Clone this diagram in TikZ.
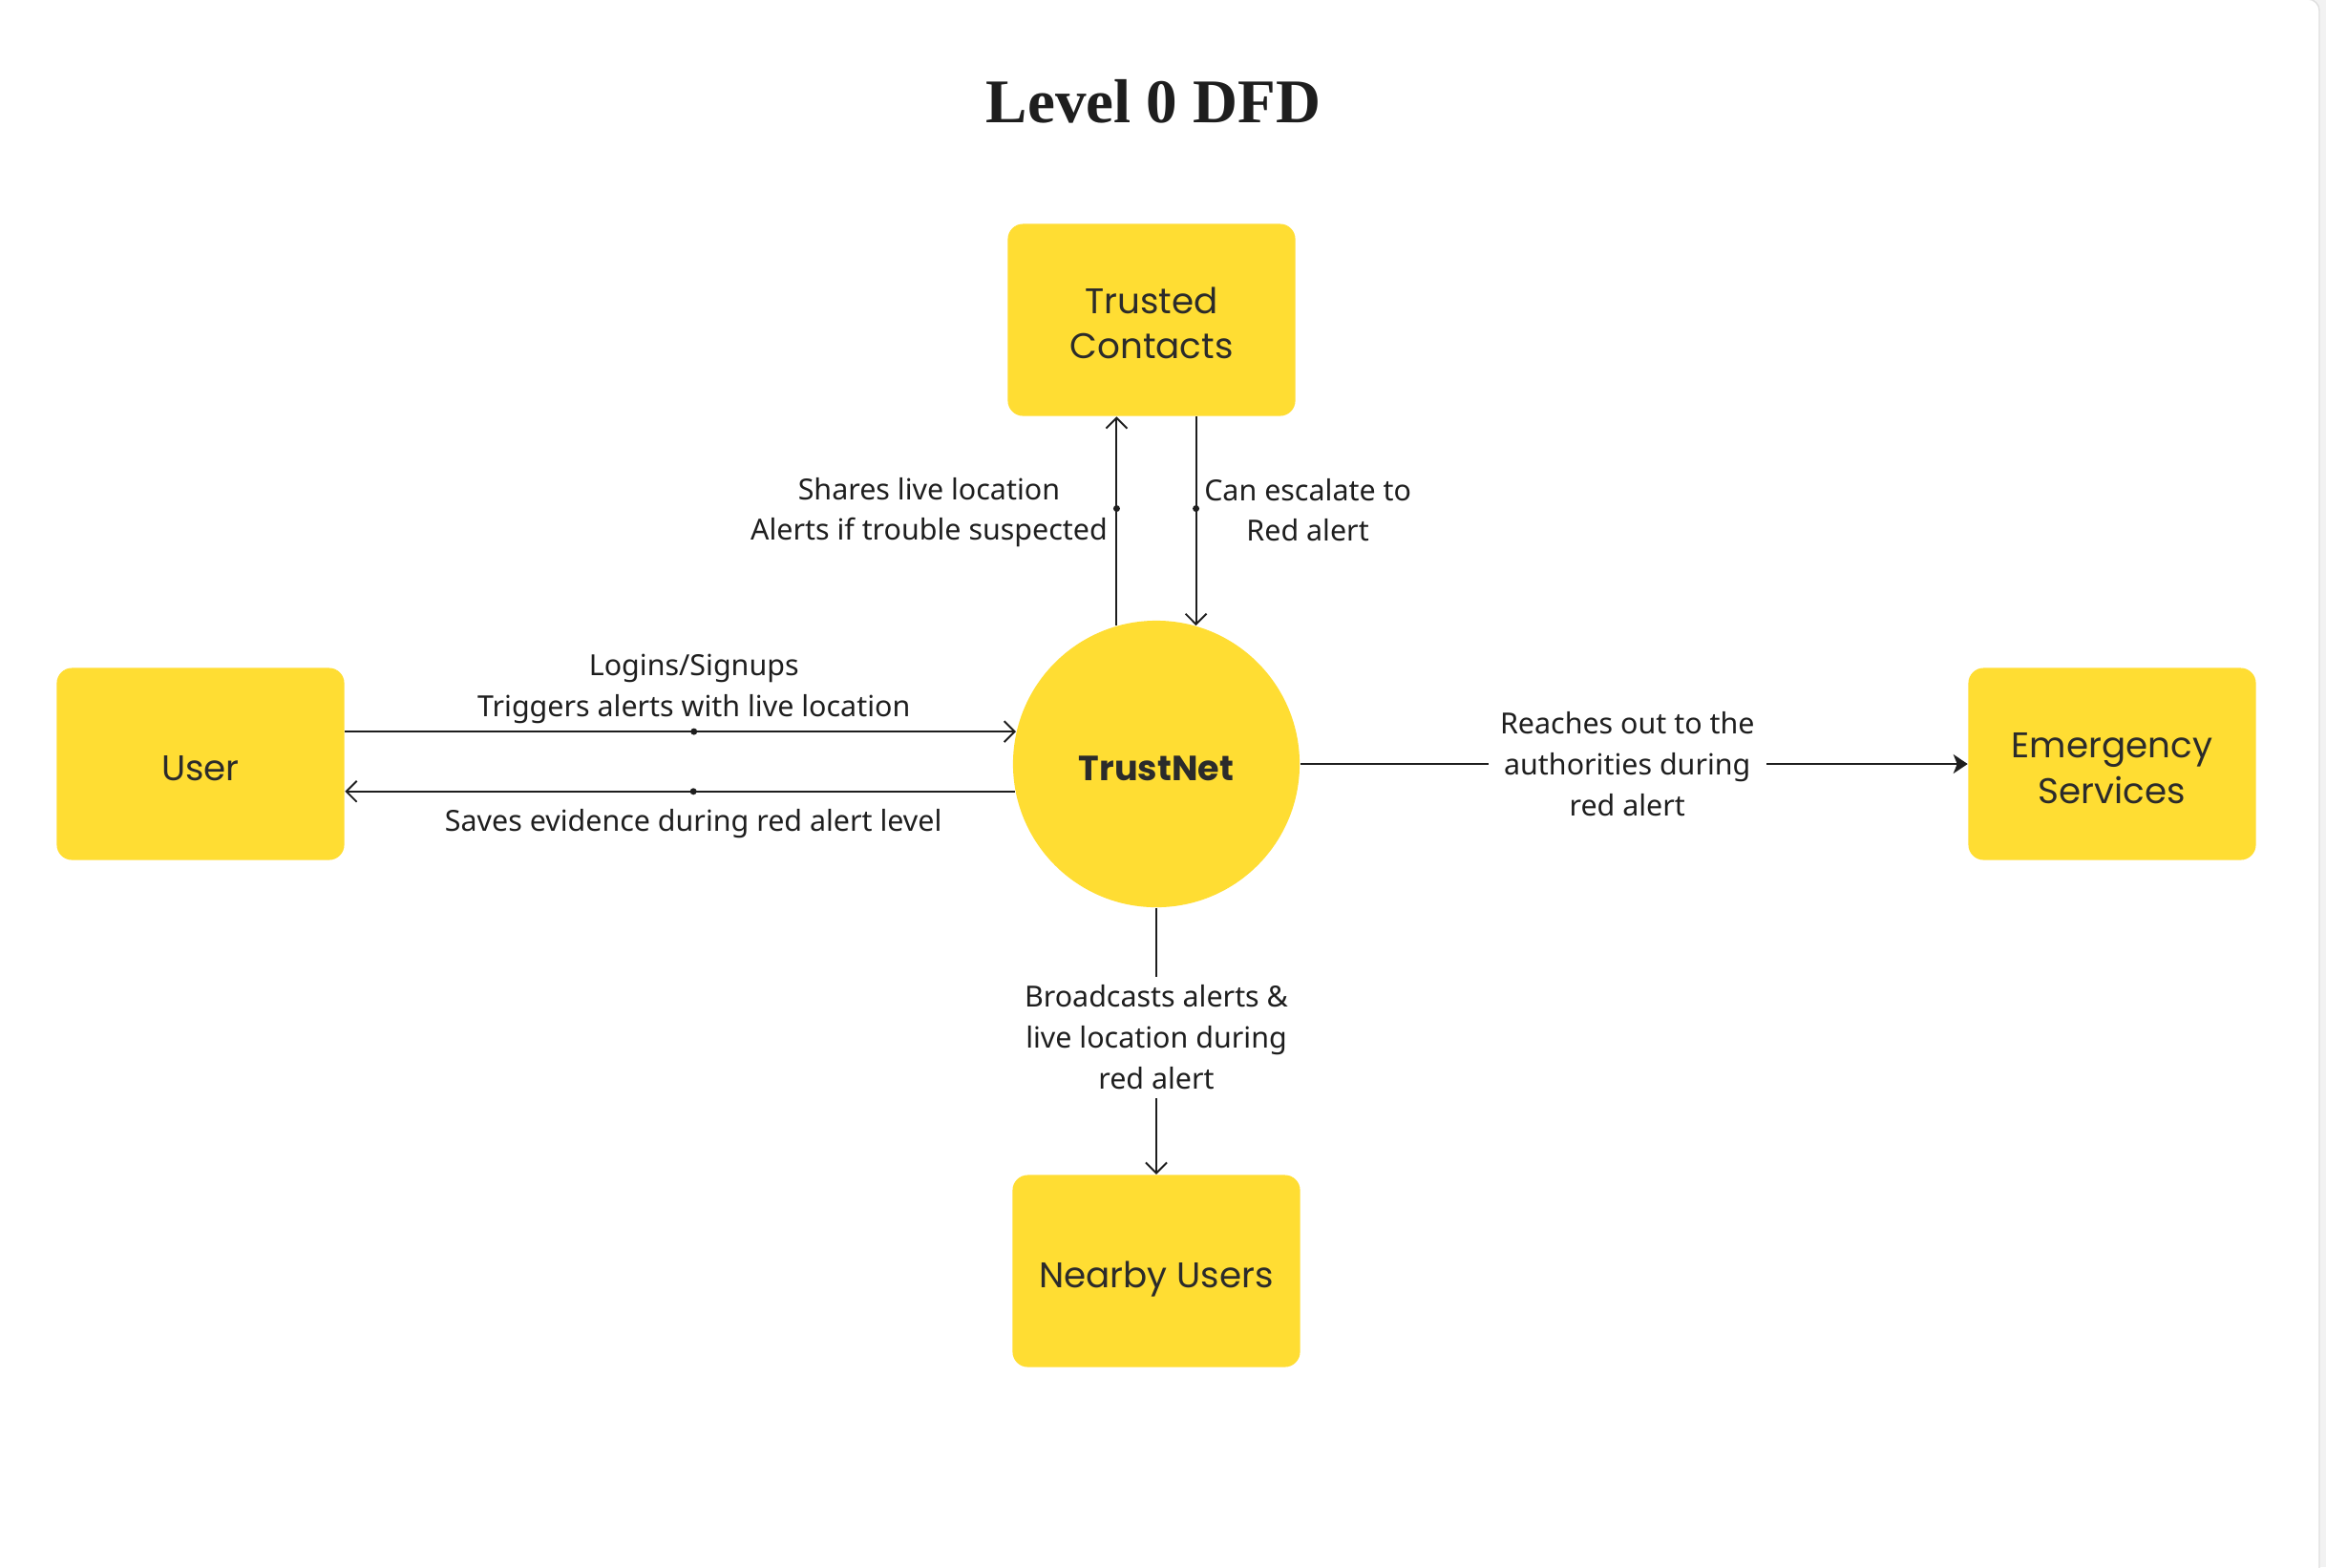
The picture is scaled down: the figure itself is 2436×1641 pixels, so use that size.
\documentclass[tikz,border=0pt]{standalone}
\usepackage{fontspec}
\setmainfont{Noto Sans}
\newfontfamily\boxfont{Poppins}
\newfontfamily\titlefont{Liberation Serif}
\usetikzlibrary{positioning,arrows.meta}
\definecolor{dfdyellow}{HTML}{FFDD33}
\definecolor{dfdink}{HTML}{1E1E1E}
\definecolor{dfdbox}{HTML}{2B2B2B}
\definecolor{dfdpage}{HTML}{F2F2F2}
\newcommand{\boxlift}{\rule{0pt}{10pt}}
\tikzset{
  entity/.style={rectangle,rounded corners=0.16cm,fill=dfdyellow,minimum width=3.01cm,minimum height=2.01cm,
    align=center,text=dfdbox,font=\boxfont\fontsize{10.6}{13.4}\selectfont},
  process/.style={circle,fill=dfdyellow,minimum size=3cm,inner sep=0pt,text=dfdbox,
    font=\boxfont\bfseries\fontsize{10.4}{13.4}\selectfont},
  flow/.style={draw=dfdink,line width=0.55pt},
  barbtip/.style={-{Straight Barb[length=1.1mm,width=2.2mm]}},
  fillhead/.style={-{Stealth[length=1.5mm,width=2mm,inset=0.4mm]}},
  flowtext/.style={align=center,text=dfdink,font=\fontsize{8.65}{12.2}\selectfont,inner sep=1pt},
  flowdot/.style={circle,fill=dfdink,inner sep=0pt,minimum size=0.07cm}
}
\begin{document}
\begin{tikzpicture}[x=0.01cm,y=-0.01cm]
\useasboundingbox (0,0) rectangle (2436,1641);
\fill[dfdpage] (0,0) rectangle (2436,1641);
\draw[gray!25,fill=white,rounded corners=0.12cm] (-20,-1) rectangle (2429,1661);
% title
\node[font=\titlefont\bfseries\fontsize{18.5}{22}\selectfont,text=dfdink] (title) at (1208,106) {Level 0 DFD};
% process and external entities
\node[process] (trust) at (1211,800) {\boxlift TrustNet};
\node[entity] (contacts) at (1206,335) {\boxlift Trusted\\Contacts};
\node[entity] (user) at (210,800) {\boxlift User};
\node[entity] (emergency) at (2212,800) {\boxlift Emergency\\Services};
\node[entity,text depth=0pt] (nearby) at (1211,1331) {\boxlift Nearby Users};
% user flows
\draw[flow,barbtip] (user.east |- trust.167) -- node[flowdot,pos=0.52] (d1) {} (trust.167);
\node[flowtext,above=0cm of d1] (l1) {Logins/Signups\\Triggers alerts with live location};
\draw[flow,barbtip] (trust.191) -- node[flowdot,pos=0.48] (d2) {} (user.east |- trust.191);
\node[flowtext,below=0.1cm of d2] (l2) {Saves evidence during red alert level};
% trusted contacts flows
\draw[flow,barbtip] (trust.106) -- node[flowdot,pos=0.56] (d3) {} (trust.106 |- contacts.south);
\node[flowtext,left=0.01cm of d3,yshift=-0.04cm] (l3) {Shares live location\\Alerts if trouble suspected};
\draw[flow,barbtip] (trust.74 |- contacts.south) -- node[flowdot,pos=0.44] (d4) {} (trust.74);
\node[flowtext,right=0cm of d4,yshift=-0.015cm] (l4) {Can escalate to\\Red alert};
% red alert flows
\draw[flow,fillhead] (trust.east) -- node[flowtext,fill=white,inner sep=3.5pt,pos=0.49] (l5) {Reaches out to the\\authorities during\\red alert} (emergency.west);
\draw[flow,barbtip] (trust.south) -- node[flowtext,fill=white,inner sep=2.5pt,pos=0.485] (l6) {Broadcasts alerts \&\\live location during\\red alert} (nearby.north);
\end{tikzpicture}
\end{document}
